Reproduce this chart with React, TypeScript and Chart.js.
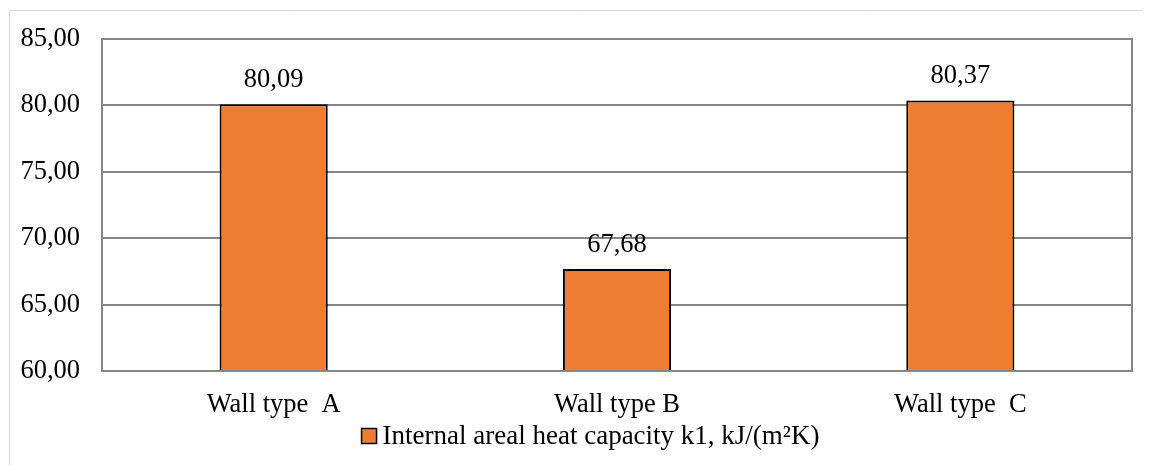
import React, { useEffect, useRef } from "react";
import { Chart, registerables } from "chart.js";

Chart.register(...registerables);

const categories = ["Wall type  A", "Wall type B", "Wall type  C"];
const seriesLabel = "Internal areal heat capacity k1, kJ/(m²K)";
const values = [80.09, 67.68, 80.37];
const yMin = 60;
const yMax = 85;
const yStep = 5;

const FONT = "'Liberation Serif', 'Times New Roman', serif";
const fmt = (v: number) => v.toFixed(2).replace(".", ",");

const frame = {
  id: "frame",
  beforeDraw(chart: any) {
    const { ctx, width, height } = chart;
    ctx.save();
    ctx.strokeStyle = "#d9d9d9";
    ctx.lineWidth = 1;
    ctx.beginPath();
    ctx.moveTo(1.5, height);
    ctx.lineTo(1.5, 2.5);
    ctx.lineTo(width, 2.5);
    ctx.stroke();
    ctx.restore();
  },
};

const plotBorder = {
  id: "plotBorder",
  afterDatasetsDraw(chart: any) {
    const { ctx, chartArea } = chart;
    ctx.save();
    ctx.strokeStyle = "#878787";
    ctx.lineWidth = 2;
    ctx.strokeRect(chartArea.left, chartArea.top, chartArea.right - chartArea.left, chartArea.bottom - chartArea.top);
    ctx.restore();
  },
};

const dataLabels = {
  id: "dataLabels",
  afterDatasetsDraw(chart: any) {
    const { ctx } = chart;
    const meta = chart.getDatasetMeta(0);
    ctx.save();
    ctx.font = `26.5px ${FONT}`;
    ctx.fillStyle = "#000";
    ctx.textAlign = "center";
    ctx.textBaseline = "alphabetic";
    meta.data.forEach((bar: any, i: number) => {
      ctx.fillText(fmt(values[i]), bar.x, bar.y - 17);
    });
    ctx.restore();
  },
};

const customLegend = {
  id: "customLegend",
  afterDraw(chart: any) {
    const { ctx, width } = chart;
    ctx.save();
    ctx.font = `27px ${FONT}`;
    const tw = ctx.measureText(seriesLabel).width;
    const box = 15;
    const gap = 6;
    const total = box + gap + tw;
    const cx = width / 2 + 11;
    const x0 = cx - total / 2;
    const cy = 428;
    ctx.fillStyle = "#ED7D31";
    ctx.fillRect(x0, cy - box / 2, box, box);
    ctx.strokeStyle = "#000";
    ctx.lineWidth = 1.5;
    ctx.strokeRect(x0, cy - box / 2, box, box);
    ctx.fillStyle = "#000";
    ctx.textAlign = "left";
    ctx.textBaseline = "middle";
    ctx.fillText(seriesLabel, x0 + box + gap, cy + 1);
    ctx.restore();
  },
};

export default function App() {
  const ref = useRef<HTMLCanvasElement>(null);
  useEffect(() => {
    document.body.style.overflow = "hidden";
    const chart = new Chart(ref.current!, {
      type: "bar",
      data: {
        labels: categories,
        datasets: [
          {
            label: seriesLabel,
            data: values,
            backgroundColor: "#ED7D31",
            borderColor: "#000000",
            borderWidth: 2,
            barPercentage: 0.63,
            categoryPercentage: 0.5,
          },
        ],
      },
      options: {
        responsive: false,
        animation: false,
        layout: { padding: { top: 31, right: 19, left: 0, bottom: 46 } },
        plugins: {
          legend: { display: false },
          tooltip: { enabled: false },
        },
        scales: {
          x: {
            grid: { display: false },
            border: { display: false },
            ticks: { font: { family: FONT, size: 26.5 }, color: "#000", padding: 10 },
            afterFit(scale: any) {
              scale.height = 48;
              scale.paddingLeft = 0;
              scale.paddingRight = 0;
            },
          },
          y: {
            min: yMin,
            max: yMax,
            grid: { color: "#878787", lineWidth: 2, drawTicks: false },
            border: { display: false },
            ticks: {
              stepSize: yStep,
              font: { family: FONT, size: 26.5 },
              color: "#000",
              padding: 22,
              callback: (v: any) => fmt(Number(v)),
            },
            afterFit(scale: any) {
              scale.width = 94;
              scale.paddingTop = 0;
              scale.paddingBottom = 0;
            },
          },
        },
      },
      plugins: [frame, plotBorder, dataLabels, customLegend],
    });
    return () => chart.destroy();
  }, []);
  return (
    <div style={{ position: "relative", width: 1143, height: 457 }}>
      <canvas ref={ref} width={1143} height={457} style={{ position: "absolute", left: 0, top: 0 }} />
    </div>
  );
}
